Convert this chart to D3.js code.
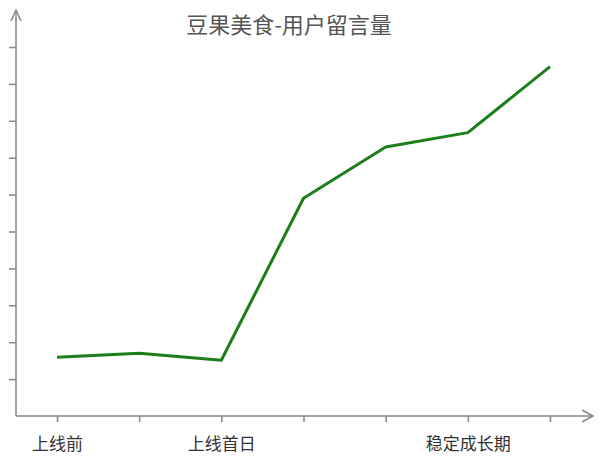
<!DOCTYPE html>
<html>
<head>
<meta charset="utf-8">
<script src="https://cdn.jsdelivr.net/npm/d3@7"></script>
<style>
  body { margin: 0; background: #fff; }
</style>
</head>
<body>
<div id="chart"></div>
<script>
// chart data
var title = "豆果美食-用户留言量"
var stages = [0, 1, 2, 3, 4, 5, 6]
var stageLabels = ["上线前", "", "上线首日", "", "", "稳定成长期", ""]
var messages = [1.59, 1.70, 1.51, 5.90, 7.29, 7.68, 9.47]
var yTicks = [1, 2, 3, 4, 5, 6, 7, 8, 9, 10]

var width = 613
var height = 462
var axisColor = "#888"

var svg = d3.select("#chart")
  .append("svg")
    .attr("width", width)
    .attr("height", height)

var x = d3.scalePoint()
  .domain(stages)
  .range([57, 550])

var y = d3.scaleLinear()
  .domain([0, 10])
  .range([416, 47])

// title
svg.append("text")
  .attr("x", 289)
  .attr("y", 33)
  .attr("text-anchor", "middle")
  .style("font-family", "'Noto Sans CJK SC', sans-serif")
  .style("font-size", "22px")
  .style("fill", "#555")
  .text(title)

// y axis: ticks only
var yAxis = svg.append("g")
  .attr("transform", "translate(16,0)")
  .call(d3.axisLeft(y).tickValues(yTicks).tickSize(7).tickFormat(""))
yAxis.select(".domain").remove()
yAxis.selectAll("line").attr("stroke", axisColor).attr("stroke-width", 1.5)

// x axis
var xAxis = svg.append("g")
  .attr("transform", "translate(0,416)")
  .call(d3.axisBottom(x).tickSize(6).tickPadding(16).tickFormat(d => stageLabels[d]))
xAxis.select(".domain").remove()
xAxis.selectAll("line").attr("stroke", axisColor).attr("stroke-width", 1.5)
xAxis.selectAll("text")
  .style("font-family", "'Noto Sans CJK SC', sans-serif")
  .style("font-size", "17px")
  .style("fill", "#333")

// axis lines with open arrows
var axisLines = svg.append("g")
  .attr("fill", "none")
  .attr("stroke", axisColor)
  .attr("stroke-width", 1.5)

axisLines.append("path").attr("d", "M16,416 L16,10 M11,21 L16,10 L21,21")
axisLines.append("path").attr("d", "M16,416 L593,416 M582,410 L593,416 L582,422")

// line
var line = d3.line()
  .x((d, i) => x(stages[i]))
  .y(d => y(d))

svg.append("path")
  .datum(messages)
  .attr("fill", "none")
  .attr("stroke", "#1c7f1c")
  .attr("stroke-width", 3)
  .attr("stroke-linejoin", "round")
  .attr("d", line)
</script>
</body>
</html>
